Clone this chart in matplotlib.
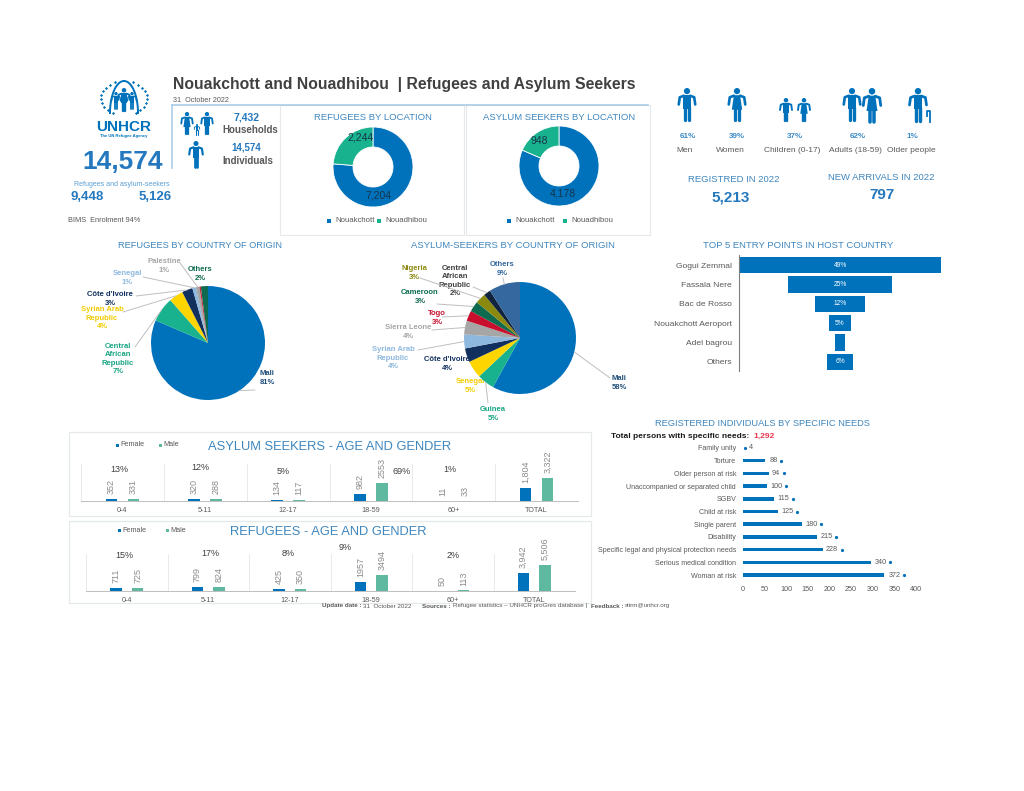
# unhcr_dashboard.py

import matplotlib
matplotlib.use('Agg')
import numpy as np
import matplotlib.pyplot as plt
from matplotlib.patches import Circle, Rectangle, Polygon
from matplotlib.transforms import ScaledTranslation

plt.rcParams['font.family'] = ['Liberation Sans', 'DejaVu Sans']

W, H = 1024, 791
BLUE = '#0072BC'
TEAL = '#18B28F'
BAR_TEAL = '#5FB8A0'
HEAD = '#3E86BE'
NUM = '#2478BE'
GRAY = '#595959'
LIGHT = '#E6E9EC'

# top figures
location_names = ['Nouakchott', 'Nouadhibou']
refugees_location = [7204, 2244]
refugees_location_labels = ['7,204', '2,244']
asylum_location = [4178, 948]
asylum_location_labels = ['4,178', '948']

demo_pct = ['61%', '39%', '37%', '62%', '1%']
demo_names = ['Men', 'Women', 'Children (0-17)', 'Adults (18-59)', 'Older people']

# pies, clockwise from the top
ref_origin = ['Mali', 'Central\nAfrican\nRepublic', 'Syrian Arab\nRepublic', "Côte d'Ivoire",
              'Senegal', 'Palestine', '', 'Others']
ref_share = [81, 7, 4, 3, 1, 1, 0.4, 2]
ref_pct = ['81%', '7%', '4%', '3%', '1%', '1%', '', '2%']
ref_colors = [BLUE, '#18B28F', '#FFD500', '#12305E', '#8FB8DE', '#A6A6A6', '#D0202E', '#0E6B50']

asy_origin = ['Mali', 'Guinea', 'Senegal', "Côte d'Ivoire", 'Syrian Arab\nRepublic', 'Sierra Leone',
              'Togo', 'Cameroon', 'Nigeria', 'Central\nAfrican\nRepublic', 'Others']
asy_share = [58, 5, 5, 4, 4, 4, 3, 3, 3, 2, 9]
asy_pct = ['58%', '5%', '5%', '4%', '4%', '4%', '3%', '3%', '3%', '2%', '9%']
asy_colors = [BLUE, '#18B28F', '#FFD500', '#12305E', '#8FB8DE', '#A6A6A6', '#C8102E', '#0E6B50',
              '#8C8A0E', '#10233F', '#34689E']

# funnel
entry_points = ['Gogui Zemmal', 'Fassala Nere', 'Bac de Rosso', 'Nouakchott Aeroport', 'Adel bagrou', 'Others']
entry_share = [49, 25, 12, 5.5, 2.5, 6.3]
entry_labels = ['49%', '25%', '12%', '5%', '', '6%']

# age and gender
age_groups = ['0-4', '5-11', '12-17', '18-59', '60+', 'TOTAL']
asy_female = [352, 320, 134, 982, 11, 1804]
asy_male = [331, 288, 117, 2553, 33, 3322]
asy_age_pct = ['13%', '12%', '5%', '69%', '1%']
ref_female = [711, 799, 425, 1957, 50, 3942]
ref_male = [725, 824, 350, 3494, 113, 5506]
ref_age_pct = ['15%', '17%', '8%', '9%', '2%']

# specific needs, top to bottom
needs = ['Family unity', 'Torture', 'Older person at risk', 'Unaccompanied or separated child', 'SGBV',
         'Child at risk', 'Single parent', 'Disability', 'Specific legal and physical protection needs',
         'Serious medical condition', 'Woman at risk']
needs_bar = [1, 51, 59, 55, 72, 82, 136, 170, 185, 297, 327]
needs_dot = [4, 88, 94, 100, 115, 125, 180, 215, 228, 340, 372]


def px_axes(fig, left, top, right, bottom, **kw):
    """Axes placed with pixel edges, y counted from the top."""
    return fig.add_axes([left / W, 1 - bottom / H, (right - left) / W, (bottom - top) / H], **kw)


fig = plt.figure(figsize=(W / 100, H / 100), dpi=100, facecolor='white')
bg = px_axes(fig, 0, 0, W, H)
bg.set_xlim(0, W)
bg.set_ylim(H, 0)
bg.axis('off')


def txt(x, y, s, size=5.5, color=GRAY, ha='center', va='center', **kw):
    return bg.text(x, y, s, fontsize=size, color=color, ha=ha, va=va, **kw)


def person(cx, top, h, skirt=False, color=BLUE):
    """Small pictogram, drawn in pixel coordinates."""
    u = h / 32
    lw = 3.2 * u * 0.72
    bg.add_patch(Circle((cx, top + 3 * u), 3 * u, color=color, lw=0))
    if skirt:
        bg.add_patch(Polygon([(cx - 3 * u, top + 7 * u), (cx + 3 * u, top + 7 * u),
                              (cx + 5 * u, top + 21 * u), (cx - 5 * u, top + 21 * u)], color=color, lw=0))
    else:
        bg.add_patch(Rectangle((cx - 3.5 * u, top + 7 * u), 7 * u, 13 * u, color=color, lw=0))
    for s in (-1, 1):
        bg.plot([cx + s * 3 * u, cx + s * 7 * u, cx + s * 8 * u],
                [top + 7.5 * u, top + 9 * u, top + 16 * u], color=color, lw=lw * 0.8, solid_capstyle='round')
        bg.plot([cx + s * 1.7 * u, cx + s * 1.7 * u], [top + 18 * u, top + 31 * u],
                color=color, lw=lw, solid_capstyle='round')


# frames
for x0, x1 in [(280, 464), (466, 650)]:
    bg.add_patch(Rectangle((x0, 105), x1 - x0, 130, fc='none', ec=LIGHT, lw=0.8))
bg.plot([172, 648], [105, 105], color='#A9CCE6', lw=1.2)
bg.plot([172, 172], [105, 168], color='#A9CCE6', lw=1.2)
for y0, y1 in [(432, 516), (521, 603)]:
    bg.add_patch(Rectangle((69, y0), 522, y1 - y0, fc='none', ec=LIGHT, lw=0.9))

# logo
for s in (-1, 1):
    t = np.radians(np.arange(-60, 80, 14))
    bg.scatter(124 + s * 23 * np.cos(t), 98 - 17 * np.sin(t), s=2.5, color=BLUE, marker='D', lw=0)
    t2 = np.radians(np.arange(0, 91, 5))
    bg.plot(124 + s * 14 * np.cos(t2), 113 - 32 * np.sin(t2), color=BLUE, lw=1.4)
person(124, 88, 24, color=BLUE)
person(116, 92, 18, color=BLUE)
person(132, 92, 18, color=BLUE)
txt(124, 127, 'UNHCR', size=11, color=BLUE, weight='bold')
txt(124, 135.5, 'The UN Refugee Agency', size=3, color=BLUE, weight='bold')

# headline
txt(173, 85, 'Nouakchott and Nouadhibou  | Refugees and Asylum Seekers', size=11.3, color='#404040',
    ha='left', weight='bold')
txt(173, 100.5, '31  October 2022', size=5.2, ha='left')

txt(123, 162, '14,574', size=19, color=NUM, weight='bold')
txt(122, 185, 'Refugees and asylum-seekers', size=5, color='#5A9FD4')
txt(87, 197, '9,448', size=9.5, color=NUM, weight='bold')
txt(155, 197, '5,126', size=9.5, color=NUM, weight='bold')
txt(68, 221, 'BIMS  Enrolment 94%', size=5.3, ha='left')

person(187, 112, 23, skirt=True)
person(207, 112, 23)
person(197, 124, 11)
person(196, 141, 27)
txt(246, 118, '7,432', size=7.5, color=NUM, weight='bold')
txt(222, 130, 'Households', size=7, ha='left', weight='bold')
txt(246, 148, '14,574', size=7, color=NUM, weight='bold')
txt(222, 161, 'Individuals', size=7, ha='left', weight='bold')


# donuts
def donut(cx, cy, values, labels, label_pos, title, leg_x):
    ax = px_axes(fig, cx - 40, cy - 40, cx + 40, cy + 40)
    ax.pie(values, colors=[BLUE, TEAL], startangle=90, counterclock=False, radius=1,
           wedgeprops=dict(width=0.5, edgecolor='white', linewidth=0.6))
    ax.set_xlim(-1, 1)
    ax.set_ylim(-1, 1)
    for lab, (x, y) in zip(labels, label_pos):
        ax.text((x - cx) / 40, (cy - y) / 40, lab, fontsize=7.5, color='#17344A', ha='center', va='center')
    txt(cx, 117, title, size=6.8, color=HEAD)
    for name, lx, col in zip(location_names, leg_x, [BLUE, TEAL]):
        bg.add_patch(Rectangle((lx - 2, 219), 4, 4, color=col, lw=0))
        txt(lx + 6, 221, name, size=5.6, ha='left')


donut(373, 167, refugees_location, refugees_location_labels, [(378, 196), (361, 137)],
      'REFUGEES BY LOCATION', [329, 379])
donut(559, 166, asylum_location, asylum_location_labels, [(563, 193), (539, 141)],
      'ASYLUM SEEKERS BY LOCATION', [509, 565])

# people row
person(687, 88, 33)
person(737, 88, 33, skirt=True)
person(786, 98, 24)
person(804, 98, 24, skirt=True)
person(852, 88, 33)
person(872, 88, 35, skirt=True)
person(918, 88, 34)
bg.plot([927, 927, 930, 930], [116, 111, 111, 122], color=BLUE, lw=1.3)
for x, p in zip([688, 737, 795, 858, 912], demo_pct):
    txt(x, 137, p, size=5.8, color='#3E8CC8', weight='bold')
for x, n in zip([685, 730, 792, 855, 911], demo_names):
    txt(x, 151, n, size=6)
txt(734, 179, 'REGISTRED IN 2022', size=6.8, color=HEAD)
txt(731, 197, '5,213', size=11, color=NUM, weight='bold')
txt(881, 178, 'NEW ARRIVALS IN 2022', size=6.8, color=HEAD)
txt(882, 195, '797', size=11, color=NUM, weight='bold')


# origin pies
def origin_pie(cx, cy, r, shares, colors, names, pcts, positions, anchors, text_colors):
    ax = px_axes(fig, cx - r, cy - r, cx + r, cy + r)
    wedges, _ = ax.pie(shares, colors=colors, startangle=90, counterclock=False, radius=1,
                       wedgeprops=dict(linewidth=0))
    ax.set_xlim(-1, 1)
    ax.set_ylim(-1, 1)
    for w, n, p, pos, a, c in zip(wedges, names, pcts, positions, anchors, text_colors):
        if not n:
            continue
        mid = np.radians((w.theta1 + w.theta2) / 2)
        txt(pos[0], pos[1], n + '\n' + p, size=5.5, color=c, weight='bold', linespacing=1.25)
        if a is not None:
            ax.annotate('', xy=(np.cos(mid), np.sin(mid)), xytext=(a[0], H - a[1]),
                        textcoords='figure pixels', annotation_clip=False,
                        arrowprops=dict(arrowstyle='-', color='#BFBFBF', lw=0.7, shrinkA=0, shrinkB=0))


txt(200, 246, 'REFUGEES BY COUNTRY OF ORIGIN', size=6.7, color=HEAD)
origin_pie(208, 343, 57, ref_share, ref_colors, ref_origin, ref_pct,
           [(267, 378), (118, 359), (102, 318), (110, 299), (127, 278), (164, 266), (0, 0), (200, 274)],
           [(255, 390), (135, 347), (123, 312), (136, 296), (143, 277), (180, 263), None, None],
           ['#1F4E79', '#18A583', '#F2CC00', '#12305E', '#8FB8DE', '#A6A6A6', '#C00000', '#0E6B50'])

txt(513, 246, 'ASYLUM-SEEKERS BY COUNTRY OF ORIGIN', size=6.8, color=HEAD)
origin_pie(520, 338, 56, asy_share, asy_colors, asy_origin, asy_pct,
           [(619, 383), (493, 414), (470, 386), (447, 364), (393, 358), (408, 332), (437, 318), (420, 297),
            (414, 273), (455, 281), (502, 269)],
           [(610, 378), (488, 403), None, None, (418, 350), (432, 330), (442, 317), (437, 304),
            (420, 278), (473, 287), (503, 278)],
           ['#1F4E79', '#18A583', '#F2CC00', '#12305E', '#8FB8DE', '#A6A6A6', '#C8102E', '#0E6B50',
            '#8C8A0E', '#404040', '#34689E'])

# funnel
txt(798, 246, 'TOP 5 ENTRY POINTS IN HOST COUNTRY', size=6.8, color=HEAD)
ax = px_axes(fig, 739, 255.5, 941, 371.5)
ypos = np.arange(len(entry_points))
ax.barh(ypos, entry_share, left=[-v / 2 for v in entry_share], height=0.86, color=BLUE)
ax.set_xlim(-24.5, 24.5)
ax.set_ylim(len(entry_points) - 0.5, -0.5)
ax.set_yticks(ypos, entry_points, fontsize=6.1, color=GRAY)
ax.set_xticks([])
ax.tick_params(axis='y', length=0, pad=5)
for s in ('top', 'right', 'bottom'):
    ax.spines[s].set_visible(False)
ax.spines['left'].set_color('#7F7F7F')
ax.patch.set_alpha(0)
for y, lab in zip(ypos, entry_labels):
    ax.text(0, y, lab, color='white', fontsize=4.8, ha='center', va='center')


# age and gender
def age_chart(left, right, base, ymax, female, male, pcts, pct_pos, title, title_x, title_y, leg):
    ax = px_axes(fig, left, base - 37, right, base)
    x = np.arange(len(age_groups))
    bf = ax.bar(x - 0.133, female, width=0.14, color=BLUE)
    bm = ax.bar(x + 0.133, male, width=0.14, color=BAR_TEAL)
    for bars in (bf, bm):
        for rect in bars:
            v = rect.get_height()
            ax.annotate(f'{v:,}' if v >= 1000 and rect.get_x() > 4.5 else str(v),
                        (rect.get_x() + rect.get_width() / 2, v), xytext=(0, 3.5), textcoords='offset points',
                        rotation=90, ha='center', va='bottom', fontsize=6.5, color='#8C8C8C',
                        annotation_clip=False)
    ax.set_xlim(-0.5, len(age_groups) - 0.5)
    ax.set_ylim(0, ymax)
    ax.set_yticks([])
    ax.set_xticks(x, age_groups, fontsize=5.2, color=GRAY)
    ax.tick_params(axis='x', length=0, pad=4)
    ax.patch.set_alpha(0)
    for s in ('top', 'right', 'left'):
        ax.spines[s].set_visible(False)
    ax.spines['bottom'].set_color('#BFBFBF')
    ax.spines['bottom'].set_linewidth(0.7)
    for sep in np.arange(-0.5, len(age_groups)):
        ax.axvline(sep, color='#EAEAEA', lw=0.7, zorder=0)
    for p, (px, py) in zip(pcts, pct_pos):
        txt(px, py, p, size=6.5, color='#404040').set_zorder(6)
    txt(title_x, title_y, title, size=9.3, color=HEAD)
    for (lx, name, col) in zip(leg, ['Female', 'Male'], [BLUE, BAR_TEAL]):
        bg.add_patch(Rectangle((lx - 1.5, title_y - 3.5), 3, 3, color=col, lw=0))
        txt(lx + 3, title_y - 2, name, size=5.2, ha='left')


age_chart(81, 578, 501, 5250, asy_female, asy_male, asy_age_pct,
          [(119, 470), (200, 468), (283, 471), (402, 472), (450, 470)],
          'ASYLUM SEEKERS - AGE AND GENDER', 330, 447, [117, 160])
age_chart(86, 575, 591, 7900, ref_female, ref_male, ref_age_pct,
          [(124, 555), (210, 554), (288, 554), (345, 547), (453, 556)],
          'REFUGEES - AGE AND GENDER', 328, 532, [119, 167])

# footer
txt(322, 606, 'Update date :', size=4.5, ha='left', weight='bold')
txt(363, 606, '31  October 2022', size=4.5, ha='left')
txt(422, 606, 'Sources :', size=4.5, ha='left', weight='bold')
txt(453, 606, 'Refugee statistics – UNHCR proGres database |', size=4.5, ha='left')
txt(591, 606, 'Feedback :', size=4.5, ha='left', weight='bold')
txt(625, 606, 'sitrm@unhcr.org', size=4.5, ha='left')

# specific needs
txt(762, 424, 'REGISTERED INDIVIDUALS BY SPECIFIC NEEDS', size=6.7, color=HEAD)
txt(611, 436, 'Total persons with specific needs:', size=6, color='#1A1A1A', ha='left', weight='bold')
txt(753, 436, '1,292', size=6, color='#E8384F', ha='left', weight='bold')

ax = px_axes(fig, 743, 441.6, 916, 581.4)
ypos = np.arange(len(needs))
ax.barh(ypos, needs_bar, height=0.27, color=BLUE)
ax.plot(needs_dot, ypos, ls='none', marker='o', ms=1.3, color=BLUE)
for y, d in zip(ypos, needs_dot):
    if d < 10:
        ax.annotate(str(d), (d, y), xytext=(3, 0), textcoords='offset points', fontsize=5.2, color=GRAY,
                    va='center', ha='left')
    else:
        ax.annotate(str(d), (d, y), xytext=(-2.5, 0), textcoords='offset points', fontsize=5.2, color=GRAY,
                    va='center', ha='right')
ax.set_xlim(0, 400)
ax.set_ylim(len(needs) - 0.5, -0.5)
ax.set_xticks(np.arange(0, 401, 50))
ax.set_yticks(ypos, needs, fontsize=5.1, color=GRAY)
# the category names sit a little above their bars
for lbl in ax.get_yticklabels():
    lbl.set_transform(lbl.get_transform() + ScaledTranslation(0, 2 / 72, fig.dpi_scale_trans))
ax.tick_params(axis='x', length=0, labelsize=5.2, labelcolor=GRAY, pad=3)
ax.tick_params(axis='y', length=0, pad=5)
ax.patch.set_alpha(0)
for s in ax.spines.values():
    s.set_visible(False)

fig.savefig('out.png', dpi=100)
